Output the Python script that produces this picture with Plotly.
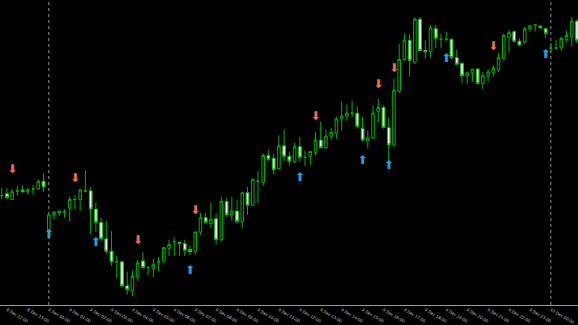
import plotly.graph_objects as go

# ---- data ----
opens = [1.1116,1.1118,1.1112,1.1121,1.1122,1.1120,1.1123,1.1123,1.1131,1.1080,
         1.1096,1.1098,1.1099,1.1103,1.1112,1.1112,1.1121,1.1121,1.1102,1.1088,
         1.1071,1.1058,1.1047,1.1047,1.1022,1.1017,1.1031,1.1048,1.1041,1.1040,
         1.1047,1.1047,1.1061,1.1068,1.1067,1.1066,1.1060,1.1058,1.1078,1.1093,
         1.1087,1.1092,1.1070,1.1110,1.1096,1.1100,1.1089,1.1119,1.1106,1.1131,
         1.1130,1.1158,1.1155,1.1144,1.1168,1.1157,1.1151,1.1167,1.1156,1.1157,
         1.1161,1.1174,1.1166,1.1178,1.1181,1.1196,1.1199,1.1202,1.1202,1.1186,
         1.1173,1.1176,1.1204,1.1208,1.1187,1.1169,1.1225,1.1258,1.1278,1.1255,
         1.1300,1.1267,1.1266,1.1290,1.1279,1.1279,1.1279,1.1260,1.1254,1.1241,
         1.1244,1.1248,1.1233,1.1241,1.1244,1.1247,1.1259,1.1281,1.1287,1.1277,
         1.1276,1.1290,1.1294,1.1293,1.1290,1.1270,1.1270,1.1270,1.1279,1.1282,
         1.1298]
highs = [1.1124,1.1124,1.1123,1.1126,1.1127,1.1124,1.1127,1.1133,1.1139,1.1098,
         1.1099,1.1100,1.1102,1.1115,1.1117,1.1123,1.1142,1.1125,1.1109,1.1093,
         1.1090,1.1079,1.1053,1.1048,1.1037,1.1038,1.1049,1.1057,1.1043,1.1050,
         1.1052,1.1062,1.1070,1.1072,1.1068,1.1070,1.1064,1.1079,1.1098,1.1098,
         1.1109,1.1097,1.1115,1.1113,1.1115,1.1112,1.1120,1.1125,1.1134,1.1142,
         1.1160,1.1163,1.1160,1.1179,1.1185,1.1162,1.1171,1.1177,1.1163,1.1162,
         1.1182,1.1193,1.1185,1.1187,1.1198,1.1214,1.1211,1.1215,1.1209,1.1198,
         1.1184,1.1210,1.1217,1.1210,1.1197,1.1238,1.1274,1.1285,1.1285,1.1302,
         1.1302,1.1278,1.1294,1.1294,1.1285,1.1287,1.1280,1.1268,1.1255,1.1245,
         1.1248,1.1249,1.1245,1.1248,1.1252,1.1265,1.1285,1.1289,1.1288,1.1280,
         1.1292,1.1294,1.1295,1.1293,1.1291,1.1275,1.1278,1.1282,1.1288,1.1302,
         1.1300]
lows = [1.1112,1.1112,1.1112,1.1116,1.1119,1.1117,1.1117,1.1122,1.1120,1.1077,
        1.1091,1.1095,1.1093,1.1089,1.1102,1.1100,1.1120,1.1076,1.1078,1.1068,
        1.1055,1.1043,1.1030,1.1020,1.1013,1.1011,1.1027,1.1040,1.1033,1.1031,
        1.1037,1.1047,1.1053,1.1053,1.1053,1.1053,1.1054,1.1055,1.1075,1.1087,
        1.1082,1.1065,1.1068,1.1094,1.1090,1.1087,1.1082,1.1096,1.1105,1.1108,
        1.1126,1.1152,1.1138,1.1143,1.1152,1.1147,1.1150,1.1151,1.1147,1.1148,
        1.1158,1.1165,1.1165,1.1174,1.1175,1.1184,1.1194,1.1198,1.1186,1.1172,
        1.1165,1.1175,1.1192,1.1186,1.1150,1.1167,1.1223,1.1256,1.1240,1.1253,
        1.1267,1.1259,1.1260,1.1270,1.1270,1.1277,1.1258,1.1252,1.1233,1.1232,
        1.1235,1.1233,1.1227,1.1235,1.1240,1.1245,1.1258,1.1265,1.1276,1.1272,
        1.1274,1.1287,1.1287,1.1290,1.1280,1.1265,1.1268,1.1267,1.1276,1.1272,
        1.1275]
closes = [1.1116,1.1114,1.1120,1.1121,1.1120,1.1122,1.1123,1.1131,1.1125,1.1096,
          1.1099,1.1100,1.1099,1.1112,1.1112,1.1122,1.1121,1.1102,1.1088,1.1071,
          1.1058,1.1047,1.1047,1.1022,1.1018,1.1032,1.1046,1.1041,1.1041,1.1044,
          1.1047,1.1062,1.1065,1.1068,1.1066,1.1059,1.1058,1.1078,1.1093,1.1088,
          1.1091,1.1070,1.1110,1.1096,1.1100,1.1089,1.1119,1.1106,1.1133,1.1131,
          1.1158,1.1154,1.1143,1.1168,1.1157,1.1152,1.1167,1.1156,1.1156,1.1162,
          1.1174,1.1166,1.1178,1.1182,1.1196,1.1199,1.1202,1.1202,1.1188,1.1174,
          1.1176,1.1202,1.1208,1.1187,1.1169,1.1226,1.1258,1.1278,1.1257,1.1300,
          1.1267,1.1266,1.1291,1.1280,1.1279,1.1279,1.1260,1.1253,1.1241,1.1244,
          1.1248,1.1233,1.1241,1.1245,1.1249,1.1260,1.1283,1.1286,1.1277,1.1273,
          1.1290,1.1293,1.1294,1.1291,1.1285,1.1270,1.1270,1.1280,1.1283,1.1298,
          1.1278]

sell_idx = [2, 14, 26, 37, 60, 72, 75, 94]
sell_price = [1.1143, 1.1133, 1.1069, 1.1100, 1.1198, 1.1231, 1.1248, 1.1271]
buy_idx = [9, 18, 36, 57, 69, 74, 85, 104]
buy_price = [1.1075, 1.1067, 1.1037, 1.1134, 1.1152, 1.1147, 1.1258, 1.1263]

separator_idx = [9, 105]

tick_idx = [1, 5, 9, 13, 17, 21, 25, 29, 33, 37, 41, 45, 49, 53,
            57, 61, 65, 69, 73, 77, 81, 85, 89, 93, 97, 101, 105, 109]
tick_text = ["8 Dec 22:00", "8 Dec 23:00", "9 Dec 00:00", "9 Dec 01:00",
             "9 Dec 02:00", "9 Dec 03:00", "9 Dec 04:00", "9 Dec 05:00",
             "9 Dec 06:00", "9 Dec 07:00", "9 Dec 08:00", "9 Dec 09:00",
             "9 Dec 10:00", "9 Dec 11:00", "9 Dec 12:00", "9 Dec 13:00",
             "9 Dec 14:00", "9 Dec 15:00", "9 Dec 16:00", "9 Dec 17:00",
             "9 Dec 18:00", "9 Dec 19:00", "9 Dec 20:00", "9 Dec 21:00",
             "9 Dec 22:00", "9 Dec 23:00", "10 Dec 00:00", "10 Dec 01:00"]

x = list(range(len(opens)))

GREEN = "#00b000"
RED = "#f26b55"
BLUE = "#1ca3e6"

fig = go.Figure()
fig.add_trace(go.Candlestick(
    x=x, open=opens, high=highs, low=lows, close=closes,
    increasing=dict(line=dict(color=GREEN, width=1), fillcolor="#000000"),
    decreasing=dict(line=dict(color=GREEN, width=1), fillcolor="#ffffff"),
    whiskerwidth=0, showlegend=False, hoverinfo="skip",
))

# solid white bodies for bearish candles (as in the terminal's look)
bear = [i for i in x if closes[i] < opens[i]]
fig.add_trace(go.Bar(
    x=bear, base=[closes[i] for i in bear],
    y=[opens[i] - closes[i] for i in bear],
    width=0.62, marker=dict(color="#ffffff", line=dict(width=0)),
    showlegend=False, hoverinfo="skip",
))

fig.add_trace(go.Scatter(
    x=sell_idx, y=sell_price, mode="text", text=["⬇"] * len(sell_idx),
    textfont=dict(family="DejaVu Sans", size=12, color=RED),
    showlegend=False, hoverinfo="skip",
))
fig.add_trace(go.Scatter(
    x=buy_idx, y=buy_price, mode="text", text=["⬆"] * len(buy_idx),
    textfont=dict(family="DejaVu Sans", size=12, color=BLUE),
    showlegend=False, hoverinfo="skip",
))

for s in separator_idx:
    fig.add_shape(type="line", x0=s, x1=s, y0=0, y1=1, xref="x", yref="paper",
                  line=dict(color="#8a8a8a", width=1, dash="dot"), layer="below")

fig.update_layout(
    width=578, height=325,
    margin=dict(l=0, r=0, t=0, b=7),
    paper_bgcolor="#000000", plot_bgcolor="#000000",
    boxgap=0.3, barmode="overlay",
    xaxis=dict(range=[-0.325, 110.19], rangeslider=dict(visible=False),
               showgrid=False, zeroline=False, showline=True,
               linecolor="#9a9a9a", linewidth=1,
               tickmode="array", tickvals=tick_idx, ticktext=tick_text,
               ticks="", tickfont=dict(family="DejaVu Sans", size=4, color="#c8c8c8")),
    yaxis=dict(range=[1.1002, 1.1320], visible=False, showgrid=False, zeroline=False),
    font=dict(family="DejaVu Sans"),
)

fig.write_html("out.html", config={"displayModeBar": False})
